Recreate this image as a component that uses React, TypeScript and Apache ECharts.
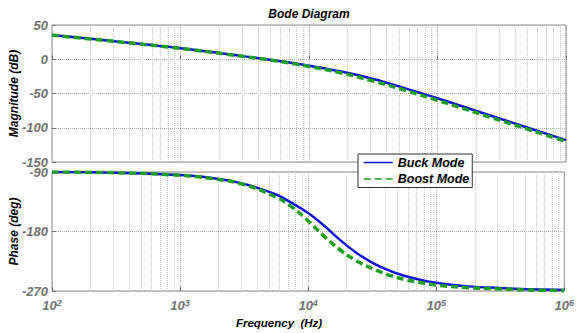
import React, { useEffect, useRef } from "react";
import * as echarts from "echarts";

// ---- data ----
const magFreq = [100, 316, 1000, 3160, 5620, 10000, 17800, 31600, 56200, 100000, 316000, 1000000];
const buckMag = [35.5, 26, 16, 4.2, -2.2, -9.5, -18, -28.8, -42.5, -57, -87.5, -118];
const boostMag = [35.2, 25.8, 15.8, 3.9, -2.6, -10.5, -20, -31.8, -45.5, -60, -90, -120];

const phaseFreq = [100, 316, 1000, 1780, 3160, 5620, 7500, 10000, 13300, 17800, 23700, 31600, 42200, 56200, 75000, 100000, 178000, 316000, 562000, 1000000];
const buckPhase = [-90, -91, -94.5, -99, -108, -124, -137, -152, -171, -193, -212, -227, -238.5, -247, -253, -257.5, -263, -265.5, -267.5, -268.5];
const boostPhase = [-90, -91, -95, -100, -109, -128, -143, -164, -187, -208, -224, -236, -245.5, -252.5, -257, -261, -265, -266.8, -268.5, -269.5];

const seriesNames = ["Buck Mode", "Boost Mode"];
const decades = [100, 1000, 10000, 100000];
const minorSteps = [2, 3, 4, 5, 6, 7, 8, 9];
const magTicks = { min: -150, max: 50, interval: 50 };
const phaseTicks = { min: -270, max: -90, interval: 90 };

const FONT = "'Liberation Sans', Arial, sans-serif";
const BLUE = "#1212dc";
const GREEN = "#1f9e1f";
const GRAY = "#727272";

const zip = (xs: number[], ys: number[]) => xs.map((x, i) => [x, ys[i]]);

export default function App() {
  const ref = useRef<HTMLDivElement>(null);
  useEffect(() => {
    if (!ref.current) return;
    const chart = echarts.init(ref.current, undefined, { renderer: "svg" });
    const minorFreqs: number[] = [];
    decades.forEach((d) => minorSteps.forEach((m) => minorFreqs.push(d * m)));

    const minorMark = {
      silent: true,
      symbol: ["none", "none"],
      z: 1,
      label: { show: false },
      lineStyle: { type: "dotted", color: "#c4c4c4", width: 1 },
      data: minorFreqs.map((f) => ({ xAxis: f })),
    };

    const xBase = {
      type: "log",
      logBase: 10,
      min: 100,
      max: 1000000,
      axisLine: { show: false },
      axisTick: { show: true, inside: true, length: 4, lineStyle: { color: GRAY } },
      splitLine: { show: true, lineStyle: { type: "dotted", color: "#b0b0b0", width: 1 } },
    };
    const yLabel = {
      color: GRAY,
      fontFamily: FONT,
      fontWeight: "bold",
      fontStyle: "italic",
      fontSize: 13,
      margin: 4,
    };
    const yBase = {
      type: "value",
      axisLine: { show: false },
      axisTick: { show: true, inside: true, length: 4, lineStyle: { color: GRAY } },
      splitLine: { show: true, lineStyle: { type: "dotted", color: "#b0b0b0", width: 1 } },
      axisLabel: yLabel,
    };
    const txt = {
      fontFamily: FONT,
      fontWeight: "bold",
      fontStyle: "italic",
      fontSize: 12,
      fill: "#000",
    };
    const lineCommon = { type: "line", symbol: "none", smooth: 0.4 };

    chart.setOption({
      animation: false,
      backgroundColor: "#fff",
      grid: [
        { left: 52, top: 25, width: 514, height: 137, show: true, borderColor: "#8c8c8c", borderWidth: 1, backgroundColor: "#fff" },
        { left: 52, top: 172, width: 514, height: 119, show: true, borderColor: "#8c8c8c", borderWidth: 1, backgroundColor: "#fff" },
      ],
      xAxis: [
        { ...xBase, gridIndex: 0, axisLabel: { show: false } },
        {
          ...xBase,
          gridIndex: 1,
          axisLabel: {
            margin: 7,
            formatter: (v: number) => "{b|10}{s|" + Math.round(Math.log10(v)) + "}",
            rich: {
              b: { color: GRAY, fontFamily: FONT, fontWeight: "bold", fontStyle: "italic", fontSize: 13, lineHeight: 15 },
              s: { color: GRAY, fontFamily: FONT, fontWeight: "bold", fontStyle: "italic", fontSize: 9, verticalAlign: "top", lineHeight: 15, padding: [0, 0, 6, 0] },
            },
          },
        },
      ],
      yAxis: [
        { ...yBase, gridIndex: 0, ...magTicks },
        { ...yBase, gridIndex: 1, ...phaseTicks },
      ],
      legend: {
        data: seriesNames,
        orient: "vertical",
        left: 358,
        top: 154,
        itemWidth: 29,
        itemHeight: 14,
        itemGap: 3.5,
        itemTextGap: 3,
        padding: [2, 3, 2, 5],
        backgroundColor: "#fff",
        borderColor: "#333",
        borderWidth: 1,
        borderRadius: 0,
        lineStyle: { width: 1.5 },
        itemStyle: { opacity: 0, color: "transparent", borderWidth: 0 },
        textStyle: { fontFamily: FONT, fontWeight: "bold", fontStyle: "italic", fontSize: 12.5, color: "#000" },
        z: 10,
      },
      series: [
        {
          ...lineCommon,
          name: seriesNames[0],
          xAxisIndex: 0,
          yAxisIndex: 0,
          data: zip(magFreq, buckMag),
          lineStyle: { color: BLUE, width: 2.5 },
          itemStyle: { color: BLUE },
          markLine: minorMark,
        },
        {
          ...lineCommon,
          name: seriesNames[1],
          xAxisIndex: 0,
          yAxisIndex: 0,
          data: zip(magFreq, boostMag),
          lineStyle: { color: GREEN, width: 3.5, type: [7, 4] },
          itemStyle: { color: GREEN },
        },
        {
          ...lineCommon,
          name: seriesNames[0],
          xAxisIndex: 1,
          yAxisIndex: 1,
          data: zip(phaseFreq, buckPhase),
          lineStyle: { color: BLUE, width: 2.5 },
          itemStyle: { color: BLUE },
          markLine: minorMark,
        },
        {
          ...lineCommon,
          name: seriesNames[1],
          xAxisIndex: 1,
          yAxisIndex: 1,
          data: zip(phaseFreq, boostPhase),
          lineStyle: { color: GREEN, width: 3.5, type: [7, 4] },
          itemStyle: { color: GREEN },
        },
      ],
      graphic: [
        { type: "text", x: 309, y: 14, style: { ...txt, text: "Bode Diagram", textAlign: "center", textVerticalAlign: "middle" } },
        { type: "text", x: 279, y: 323, style: { ...txt, fontSize: 11.5, text: "Frequency  (Hz)", textAlign: "center", textVerticalAlign: "middle" } },
        { type: "text", x: 13.5, y: 93.5, rotation: Math.PI / 2, style: { ...txt, text: "Magnitude (dB)", textAlign: "center", textVerticalAlign: "middle" } },
        { type: "text", x: 14, y: 231.5, rotation: Math.PI / 2, style: { ...txt, text: "Phase (deg)", textAlign: "center", textVerticalAlign: "middle" } },
      ],
    });
    return () => chart.dispose();
  }, []);
  return <div ref={ref} style={{ position: "fixed", left: 0, top: 0, width: 577, height: 333 }} />;
}
